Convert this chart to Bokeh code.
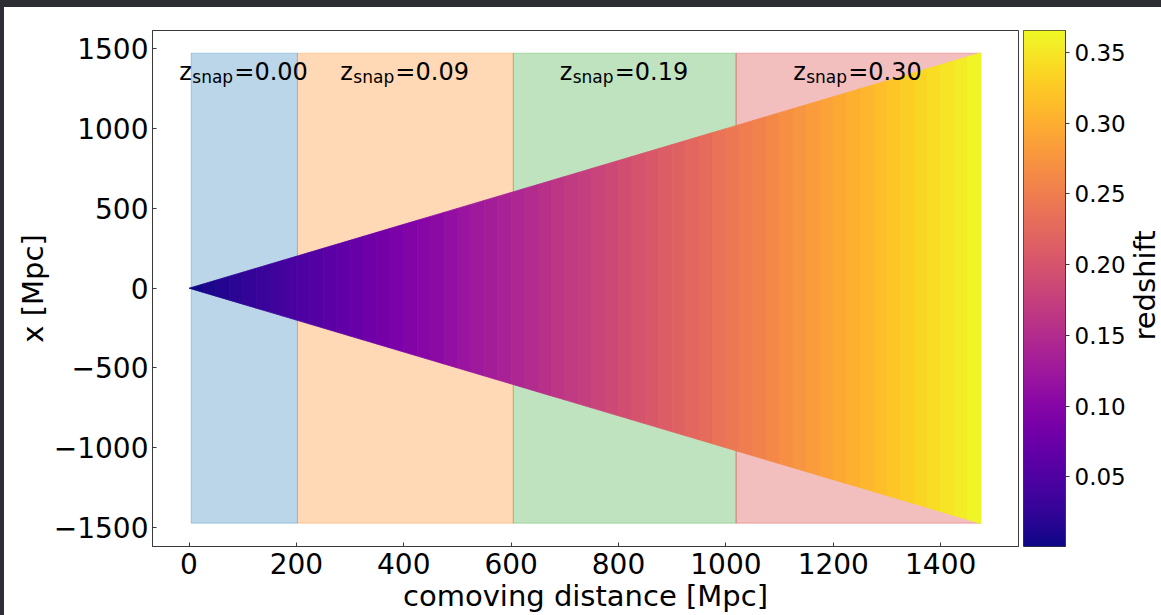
import numpy as np
from bokeh.plotting import figure
from bokeh.models import (ColumnDataSource, LinearColorMapper, Range1d, FixedTicker,
                          Div, PrintfTickFormatter)
from bokeh.transform import transform
from bokeh.palettes import Plasma256
from bokeh.layouts import row, column
from bokeh.core.properties import value
from bokeh.embed import file_html
from bokeh.resources import INLINE

# ---------------- data ----------------
# comoving distance nodes [Mpc] and redshift read from the colour gradient
distance_nodes = [0, 25, 50, 75, 100, 125, 150, 175, 200, 225, 250, 275, 300, 325, 350,
                  375, 400, 425, 450, 475, 500, 525, 550, 575, 600, 625, 650, 675, 700,
                  725, 750, 775, 800, 825, 850, 875, 900, 925, 950, 975, 1000, 1025,
                  1050, 1075, 1100, 1125, 1150, 1175, 1200, 1225, 1250, 1275, 1300,
                  1325, 1350, 1375, 1400, 1425, 1450, 1475]
redshift_nodes = [0.000, 0.006, 0.011, 0.017, 0.023, 0.029, 0.034, 0.040, 0.046, 0.051,
                  0.057, 0.063, 0.069, 0.075, 0.081, 0.087, 0.092, 0.098, 0.104, 0.110,
                  0.116, 0.122, 0.128, 0.134, 0.140, 0.146, 0.152, 0.159, 0.165, 0.171,
                  0.177, 0.183, 0.189, 0.196, 0.202, 0.208, 0.214, 0.221, 0.227, 0.233,
                  0.240, 0.246, 0.252, 0.259, 0.266, 0.272, 0.279, 0.285, 0.292, 0.298,
                  0.305, 0.311, 0.318, 0.325, 0.332, 0.338, 0.345, 0.352, 0.359, 0.366]

# snapshot bands along the line of sight
band_edges = [4, 202, 604, 1019, 1474]
band_halfheight = 1473
zsnap = [0.00, 0.09, 0.19, 0.30]

x_ticks = [0, 200, 400, 600, 800, 1000, 1200, 1400]
y_ticks = [-1500, -1000, -500, 0, 500, 1000, 1500]
cbar_ticks = [0.05, 0.10, 0.15, 0.20, 0.25, 0.30, 0.35]
z_low, z_high = 0.0007, 0.3655

# ---------------- styles ----------------
FONT = "DejaVu Sans"
band_colors = ["#1f77b4", "#ff7f0e", "#2ca02c", "#d62728"]
spine = "#3a3a3a"
H = 608
MB_TOP, MB_BOTTOM = 23, 69

mapper = LinearColorMapper(palette=Plasma256, low=z_low, high=z_high)

p = figure(width=1016, height=H, output_backend="svg", toolbar_location=None,
           x_range=Range1d(-68, 1545), y_range=Range1d(-1619, 1615),
           min_border_left=148, min_border_right=2,
           min_border_top=MB_TOP, min_border_bottom=MB_BOTTOM)
p.grid.visible = False
p.background_fill_color = "white"
p.border_fill_color = "white"
p.outline_line_color = spine
p.outline_line_width = 1

# bands
band_src = ColumnDataSource(dict(
    left=band_edges[:-1], right=band_edges[1:],
    bottom=[-band_halfheight] * 4, top=[band_halfheight] * 4, color=band_colors))
p.quad(left="left", right="right", bottom="bottom", top="top", source=band_src,
       fill_color="color", fill_alpha=0.3, line_color="color", line_alpha=0.3, line_width=1)

# light-cone wedge: |x| <= comoving distance, coloured by redshift
d = distance_nodes
zmid = [(redshift_nodes[i] + redshift_nodes[i + 1]) / 2 for i in range(len(d) - 1)]
xs = [[d[i], d[i + 1], d[i + 1], d[i]] for i in range(len(d) - 1)]
ys = [[-d[i], -d[i + 1], d[i + 1], d[i]] for i in range(len(d) - 1)]
wedge_src = ColumnDataSource(dict(xs=xs, ys=ys, z=zmid))
p.patches("xs", "ys", source=wedge_src, fill_color=transform("z", mapper),
          line_color=transform("z", mapper), line_width=0.8)

# snapshot labels  z_snap=0.xx
centers = [(band_edges[i] + band_edges[i + 1]) / 2 for i in range(4)]
lab_y = [1352] * 4
lab_src = ColumnDataSource(dict(x=centers, y=lab_y, z=["z"] * 4, sub=["snap"] * 4,
                                rest=["=%.2f" % v for v in zsnap]))
p.text(x="x", y="y", text="z", source=lab_src, x_offset=-65, text_align="left",
       text_baseline="middle", text_font=value(FONT), text_font_size="24px",
       text_color="black")
p.text(x="x", y="y", text="sub", source=lab_src, x_offset=-52, y_offset=5, text_align="left",
       text_baseline="middle", text_font=value(FONT), text_font_size="17px",
       text_color="black")
p.text(x="x", y="y", text="rest", source=lab_src, x_offset=-10, text_align="left",
       text_baseline="middle", text_font=value(FONT), text_font_size="24px",
       text_color="black")

# axes
for ax in (p.xaxis[0], p.yaxis[0]):
    ax.axis_line_color = spine
    ax.major_tick_line_color = spine
    ax.major_tick_in = 4
    ax.major_tick_out = 0
    ax.minor_tick_line_color = None
    ax.major_label_text_font = FONT
    ax.major_label_text_font_size = "28px"
    ax.major_label_text_color = "black"
    ax.axis_label_text_font = FONT
    ax.axis_label_text_font_size = "29px"
    ax.axis_label_text_font_style = "normal"
    ax.axis_label_text_color = "black"

p.xaxis.ticker = FixedTicker(ticks=x_ticks)
p.yaxis.ticker = FixedTicker(ticks=y_ticks)
p.yaxis.major_label_overrides = {t: (("\u2212%d" % -t) if t < 0 else str(t)) for t in y_ticks}
p.xaxis.axis_label = "comoving distance [Mpc]"
p.yaxis.axis_label = "x [Mpc]"
p.xaxis.major_label_standoff = 6
p.xaxis.axis_label_standoff = 2
p.yaxis.major_label_standoff = 4
p.yaxis.axis_label_standoff = 1

# ---------------- colour bar ----------------
cb = figure(width=108, height=H, output_backend="svg", toolbar_location=None,
            x_range=Range1d(0, 1), y_range=Range1d(z_low, z_high),
            x_axis_location=None, y_axis_location="right",
            min_border_left=3, min_border_right=62,
            min_border_top=MB_TOP, min_border_bottom=MB_BOTTOM)
cb.grid.visible = False
cb.outline_line_color = spine
cb.border_fill_color = "white"
grad = np.linspace(z_low, z_high, 512).reshape(512, 1)
cb.image(image=[grad], x=0, y=z_low, dw=1, dh=z_high - z_low, color_mapper=mapper)
cax = cb.yaxis[0]
cax.ticker = FixedTicker(ticks=cbar_ticks)
cax.formatter = PrintfTickFormatter(format="%.2f")
cax.axis_line_color = spine
cax.major_tick_line_color = spine
cax.major_tick_in = 0
cax.major_tick_out = 4
cax.minor_tick_line_color = None
cax.major_label_text_font = FONT
cax.major_label_text_font_size = "23px"
cax.major_label_text_color = "black"
cax.major_label_standoff = 5

# colour-bar label, in its own narrow panel
lab = figure(width=33, height=H, output_backend="svg", toolbar_location=None,
             x_range=Range1d(0, 33), y_range=Range1d(0, 516),
             x_axis_location=None, y_axis_location=None,
             min_border_left=0, min_border_right=0,
             min_border_top=MB_TOP, min_border_bottom=MB_BOTTOM)
lab.grid.visible = False
lab.outline_line_color = None
lab.border_fill_color = "white"
lab.text(x=[16], y=[261], text=["redshift"], angle=90, angle_units="deg",
         text_align="center", text_baseline="middle", text_font=value(FONT),
         text_font_size="29px", text_color="black")

# screenshot frame strips
dark = "#2c2e33"
top_strip = Div(width=1161, height=7, margin=0, styles={"background-color": dark})
left_strip = Div(width=4, height=H, margin=0, styles={"background-color": dark})

layout = column(top_strip, row(left_strip, p, cb, lab, spacing=0), spacing=0)

open("out.html", "w").write(file_html(layout, INLINE))
